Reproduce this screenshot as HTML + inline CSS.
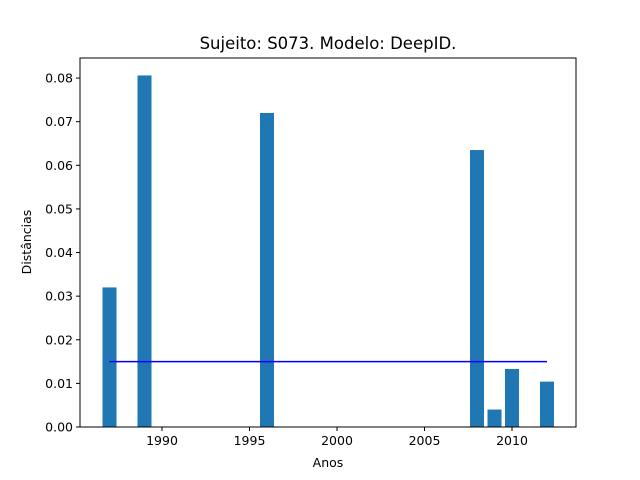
<!DOCTYPE html>
<html><head><meta charset="utf-8"><style>
body{margin:0;background:#fff;}
svg{display:block;font-family:"DejaVu Sans","Liberation Sans",sans-serif;}
</style></head><body>
<svg id="chart" width="640" height="480">
<rect width="640" height="480" fill="#fff"/>
<text x="328" y="49" text-anchor="middle" font-size="16.5">Sujeito: S073. Modelo: DeepID.</text>
<g id="plot"></g>
<rect x="80" y="58" width="496" height="369" fill="none" stroke="#000" stroke-width="1"/>
<text x="328" y="467" text-anchor="middle" font-size="12.5">Anos</text>
<text transform="translate(31,242) rotate(-90)" text-anchor="middle" font-size="12.5">Distâncias</text>
</svg>
<script>
const years=[1987,1989,1996,2008,2009,2010,2012];
const values=[0.032,0.0806,0.072,0.0635,0.004,0.0133,0.0104];
const meanValue=0.015;
const xTicks=[1990,1995,2000,2005,2010];
const yTicks=[0,0.01,0.02,0.03,0.04,0.05,0.06,0.07,0.08];
const x0=80,x1=576,y0=427,y1=58;
const xmin=1985.314,xmax=2013.657,ymin=0,ymax=0.0846;
const X=v=>x0+(v-xmin)/(xmax-xmin)*(x1-x0);
const Y=v=>y0-(v-ymin)/(ymax-ymin)*(y0-y1);
const NS="http://www.w3.org/2000/svg";
const g=document.getElementById('plot');
function mk(t,a){const e=document.createElementNS(NS,t);for(const k in a)e.setAttribute(k,a[k]);g.appendChild(e);return e;}
years.forEach((yr,i)=>{
const r=mk('rect',{x:X(yr-0.4),y:Y(values[i]),width:X(yr+0.4)-X(yr-0.4),height:Y(0)-Y(values[i]),fill:'#1f77b4'});


});
const ln=mk('line',{x1:X(years[0]),x2:X(years[years.length-1]),y1:Y(meanValue),y2:Y(meanValue),stroke:'#0000ff','stroke-width':1.5});


xTicks.forEach(t=>{
const l=mk('line',{x1:X(t),x2:X(t),y1:y0,y2:y0+4,stroke:'#000'});


const tx=mk('text',{x:X(t),y:y0+18,'text-anchor':'middle','font-size':12.5});
tx.textContent=t;


});
yTicks.forEach(t=>{
const l=mk('line',{x1:x0-4,x2:x0,y1:Y(t),y2:Y(t),stroke:'#000'});


const tx=mk('text',{x:x0-7,y:Y(t)+4.5,'text-anchor':'end','font-size':12.5});
tx.textContent=t.toFixed(2);


});
</script>
</body></html>
